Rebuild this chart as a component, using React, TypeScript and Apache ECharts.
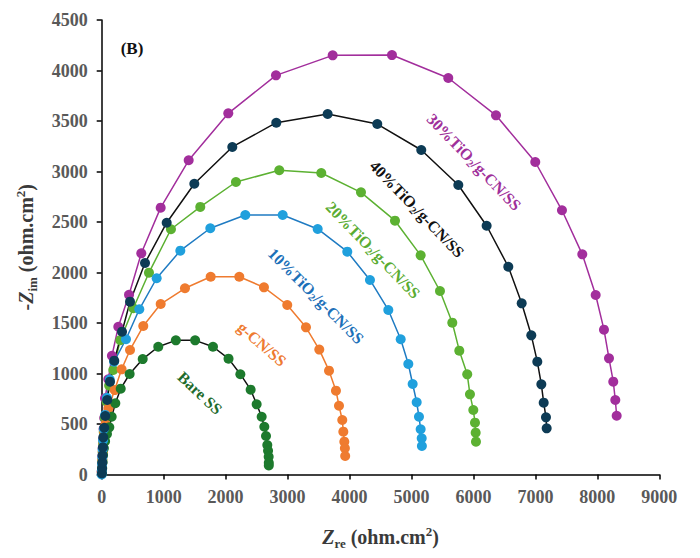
import React, { useEffect, useRef } from "react";
import * as echarts from "echarts";

// Nyquist data: [Z_re, -Z_im] in ohm.cm²
const bareSS: number[][] = [
  [5, 10], [8, 60], [14, 120], [22, 190], [35, 260], [55, 330], [85, 400], [123, 467],
  [161, 572], [220, 705], [307, 850], [451, 995], [662, 1143], [913, 1265], [1197, 1328],
  [1508, 1328], [1796, 1265], [2047, 1147], [2238, 993], [2404, 840], [2501, 695],
  [2582, 572], [2625, 473], [2652, 381], [2673, 292], [2685, 236], [2695, 176], [2697, 117], [2697, 90],
];
const gCN: number[][] = [
  [0, 25], [5, 80], [10, 150], [17, 230], [27, 320], [40, 420], [63, 500], [109, 655],
  [209, 836], [321, 1041], [457, 1233], [671, 1470], [952, 1688], [1344, 1844], [1759, 1958],
  [2221, 1958], [2619, 1853], [2995, 1678], [3297, 1457], [3512, 1237], [3669, 1028],
  [3781, 830], [3830, 681], [3883, 540], [3900, 424], [3916, 325], [3925, 259], [3930, 183],
];
const tio2_10: number[][] = [
  [0, 0], [3, 40], [6, 100], [10, 170], [15, 250], [22, 340], [35, 450], [55, 590],
  [85, 760], [130, 940], [200, 1117], [392, 1339], [607, 1636], [887, 1943], [1269, 2216],
  [1753, 2438], [2318, 2569], [2921, 2569], [3486, 2431], [3964, 2206], [4330, 1926],
  [4626, 1629], [4826, 1339], [4949, 1094], [5019, 896], [5084, 715], [5121, 572],
  [5148, 448], [5165, 358], [5168, 282],
];
const tio2_20: number[][] = [
  [4, 15], [7, 70], [11, 140], [16, 220], [22, 310], [33, 420], [50, 560], [80, 720],
  [120, 880], [187, 1035], [300, 1330], [510, 1646], [763, 1998], [1118, 2428], [1591, 2649],
  [2167, 2896], [2866, 3012], [3544, 2985], [4185, 2794], [4734, 2513], [5148, 2170],
  [5460, 1817], [5659, 1503], [5772, 1226], [5900, 992], [5944, 794], [5998, 639],
  [6025, 513], [6036, 414], [6041, 325],
];
const tio2_30: number[][] = [
  [0, 30], [5, 100], [10, 180], [15, 260], [22, 350], [30, 450], [40, 560], [53, 754],
  [107, 942], [165, 1175], [268, 1463], [441, 1780], [639, 2190], [952, 2642], [1404, 3111],
  [2043, 3576], [2813, 3952], [3728, 4150], [4685, 4153], [5594, 3926], [6364, 3556],
  [6998, 3094], [7429, 2616], [7757, 2180], [7973, 1777], [8107, 1434], [8188, 1150],
  [8257, 919], [8290, 738], [8312, 582],
];
const tio2_40: number[][] = [
  [3, 10], [6, 60], [10, 120], [14, 190], [20, 270], [26, 368], [42, 463], [58, 579],
  [90, 738], [134, 919], [203, 1127], [328, 1414], [457, 1711], [699, 2094], [1049, 2493],
  [1495, 2879], [2108, 3243], [2818, 3483], [3647, 3569], [4448, 3470], [5158, 3213],
  [5756, 2866], [6213, 2463], [6563, 2057], [6779, 1695], [6934, 1378], [7031, 1117],
  [7096, 893], [7134, 711], [7171, 566], [7182, 457],
];

const xTicks = { min: 0, max: 9000, interval: 1000 };
const yTicks = { min: 0, max: 4500, interval: 500 };

const SERIF = "'Liberation Serif', 'Times New Roman', serif";

type Curve = {
  name: string;
  data: number[][];
  marker: string;
  line: string;
};

const curves: Curve[] = [
  { name: "30%TiO2/g-CN/SS", data: tio2_30, marker: "#a22e9c", line: "#a22e9c" },
  { name: "20%TiO2/g-CN/SS", data: tio2_20, marker: "#5cb132", line: "#5cb132" },
  { name: "g-CN/SS", data: gCN, marker: "#ef7b2f", line: "#ef7b2f" },
  { name: "Bare SS", data: bareSS, marker: "#1d7a2d", line: "#111111" },
  { name: "10%TiO2/g-CN/SS", data: tio2_10, marker: "#20a0dd", line: "#1f7bc2" },
  { name: "40%TiO2/g-CN/SS", data: tio2_40, marker: "#0d3b55", line: "#111111" },
];

// curve annotations: rich text, position, angle (degrees below horizontal)
const labelRich = {
  b: { fontFamily: SERIF, fontWeight: "bold", fontSize: 16, lineHeight: 19 },
  s: { fontFamily: SERIF, fontWeight: "bold", fontSize: 10.5, lineHeight: 10, verticalAlign: "bottom" },
};
const annotations = [
  { text: "{b|30%TiO}{s|2}{b|/g-CN/SS}", x: 474, y: 162, angle: 46, color: "#a0309a" },
  { text: "{b|40%TiO}{s|2}{b|/g-CN/SS}", x: 417, y: 209, angle: 46, color: "#111111" },
  { text: "{b|20%TiO}{s|2}{b|/g-CN/SS}", x: 373, y: 250, angle: 46, color: "#5aac32" },
  { text: "{b|10%TiO}{s|2}{b|/g-CN/SS}", x: 316, y: 296, angle: 45, color: "#1c70b8" },
  { text: "{b|g-CN/SS}", x: 262, y: 344, angle: 41, color: "#ee7a30" },
  { text: "{b|Bare SS}", x: 200, y: 393, angle: 43, color: "#1e6b2c" },
];

const titleRich = {
  z: { fontFamily: SERIF, fontWeight: "bold", fontStyle: "italic", fontSize: 20, lineHeight: 25, color: "#3a3a3a" },
  t: { fontFamily: SERIF, fontWeight: "bold", fontSize: 20, lineHeight: 25, color: "#3a3a3a" },
  sub: { fontFamily: SERIF, fontWeight: "bold", fontSize: 13, lineHeight: 12, verticalAlign: "bottom", color: "#3a3a3a" },
  sup: { fontFamily: SERIF, fontWeight: "bold", fontSize: 13, lineHeight: 12, verticalAlign: "top", color: "#3a3a3a" },
};

export default function App() {
  const ref = useRef<HTMLDivElement>(null);

  useEffect(() => {
    if (!ref.current) return;
    const chart = echarts.init(ref.current, undefined, { renderer: "svg" });

    const axisCommon = {
      type: "value" as const,
      axisLine: { show: true, lineStyle: { color: "#000000", width: 1.5 } },
      axisTick: { show: true, inside: false, length: 5, lineStyle: { color: "#000000", width: 1.5 } },
      splitLine: { show: false },
      axisLabel: {
        fontFamily: SERIF,
        fontWeight: "bold" as const,
        fontSize: 18,
        color: "#595959",
        formatter: (v: number) => String(v),
      },
    };

    chart.setOption({
      animation: false,
      backgroundColor: "#ffffff",
      grid: { left: 101.7, right: 40.7, top: 20, bottom: 83.5, containLabel: false },
      xAxis: {
        ...axisCommon,
        ...xTicks,
        axisLabel: { ...axisCommon.axisLabel, margin: 13 },
        name: "{z|Z}{sub|re}{t| (ohm.cm}{sup|2}{t|)}",
        nameLocation: "middle",
        nameGap: 50,
        nameTextStyle: { rich: titleRich },
      },
      yAxis: {
        ...axisCommon,
        ...yTicks,
        axisLabel: { ...axisCommon.axisLabel, margin: 14 },
        name: "{t|-}{z|Z}{sub|im}{t| (ohm.cm}{sup|2}{t|)}",
        nameLocation: "middle",
        nameRotate: 90,
        nameGap: 63,
        nameTextStyle: { rich: titleRich },
      },
      series: curves.map((c) => ({
        name: c.name,
        type: "line",
        data: c.data,
        symbol: "circle",
        symbolSize: 10,
        showSymbol: true,
        smooth: false,
        lineStyle: { color: c.line, width: 1.5 },
        itemStyle: { color: c.marker, borderWidth: 0 },
        emphasis: { disabled: true },
      })),
      graphic: [
        {
          type: "text",
          x: 132,
          y: 48,
          style: {
            text: "(B)",
            fontFamily: SERIF,
            fontWeight: "bold",
            fontSize: 17,
            fill: "#111111",
            align: "center",
            verticalAlign: "middle",
          },
        },
        ...annotations.map((a) => ({
          type: "text",
          x: a.x,
          y: a.y,
          rotation: (-a.angle * Math.PI) / 180,
          style: {
            text: a.text,
            rich: labelRich,
            fill: a.color,
            align: "center",
            verticalAlign: "middle",
          },
        })),
      ],
    });

    return () => chart.dispose();
  }, []);

  return (
    <div
      ref={ref}
      style={{ position: "absolute", left: 0, top: 0, width: 700, height: 558 }}
    />
  );
}
